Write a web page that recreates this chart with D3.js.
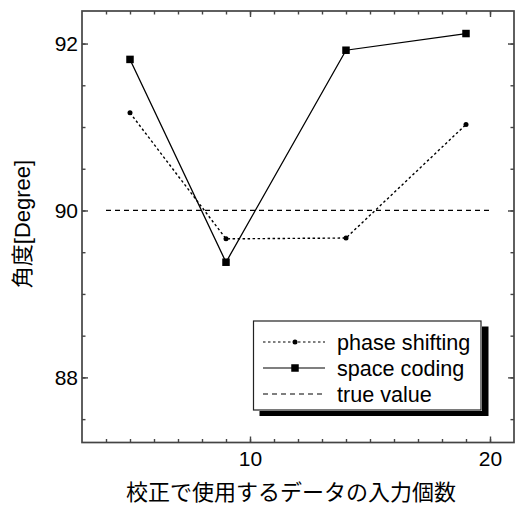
<!DOCTYPE html>
<html>
<head>
<meta charset="utf-8">
<script src="https://cdn.jsdelivr.net/npm/d3@7"></script>
<style>
  html, body { margin: 0; padding: 0; background: #fff; }
  svg { display: block; }
  text { font-family: "Liberation Sans", Arial, "Noto Sans CJK JP", sans-serif; fill: #000; }
</style>
</head>
<body>
<svg id="chart" width="516" height="506"></svg>
<script>
// Number of calibration inputs
const inputCounts = [5, 9, 14, 19];
// Measured angle [deg] for each method
const phaseShifting = [91.17, 89.66, 89.67, 91.03];
const spaceCoding = [91.81, 89.38, 91.92, 92.12];
// Reference (true) angle and the span it is drawn over
const trueValue = 90;
const trueSpan = [4, 20];

const xMajor = [10, 20];
const xMinor = d3.range(4, 21);
const yMajor = [88, 90, 92];
const yMinor = d3.range(87.5, 92.01, 0.5);

const seriesNames = ["phase shifting", "space coding", "true value"];
const xTitle = "校正で使用するデータの入力個数";
const yTitle = "角度[Degree]";

const svg = d3.select("#chart");
const plotL = 82, plotR = 514, plotT = 11, plotB = 442.5;

const x = d3.scaleLinear().domain([3, 21]).range([plotL, plotR]);
const y = d3.scaleLinear().domain([87.22, 92.39]).range([plotB, plotT]);

const axisColor = "#444";
const fontPx = 21;

// Ticks point inward on all four sides
function styleAxis(g) {
  g.select(".domain").remove();
  g.selectAll(".tick line").attr("stroke", axisColor).attr("stroke-width", 1.4);
  g.selectAll(".tick text").attr("font-size", fontPx).attr("font-family", null);
}
const noLabel = () => "";

svg.append("g").attr("transform", `translate(0,${plotB})`)
  .call(d3.axisBottom(x).tickValues(xMinor).tickSize(-3.5).tickFormat(noLabel)).call(styleAxis);
svg.append("g").attr("transform", `translate(0,${plotB})`)
  .call(d3.axisBottom(x).tickValues(xMajor).tickSize(-6).tickPadding(9).tickFormat(d3.format("d")))
  .call(styleAxis);
svg.append("g").attr("transform", `translate(0,${plotT})`)
  .call(d3.axisTop(x).tickValues(xMinor).tickSize(-3.5).tickFormat(noLabel)).call(styleAxis);
svg.append("g").attr("transform", `translate(0,${plotT})`)
  .call(d3.axisTop(x).tickValues(xMajor).tickSize(-6).tickFormat(noLabel)).call(styleAxis);

svg.append("g").attr("transform", `translate(${plotL},0)`)
  .call(d3.axisLeft(y).tickValues(yMinor).tickSize(-3.5).tickFormat(noLabel)).call(styleAxis);
const yLab = svg.append("g").attr("transform", `translate(${plotL},0)`)
  .call(d3.axisLeft(y).tickValues(yMajor).tickSize(-6).tickFormat(d3.format("d")))
  .call(styleAxis);
// Left tick labels sit just outside the frame
yLab.selectAll(".tick text").attr("x", -4);
svg.append("g").attr("transform", `translate(${plotR},0)`)
  .call(d3.axisRight(y).tickValues(yMinor).tickSize(-3.5).tickFormat(noLabel)).call(styleAxis);
svg.append("g").attr("transform", `translate(${plotR},0)`)
  .call(d3.axisRight(y).tickValues(yMajor).tickSize(-6).tickFormat(noLabel)).call(styleAxis);

// Plot frame
svg.append("rect")
  .attr("x", plotL).attr("y", plotT)
  .attr("width", plotR - plotL).attr("height", plotB - plotT)
  .attr("fill", "none").attr("stroke", axisColor).attr("stroke-width", 1.7);

// True value reference line
svg.append("line")
  .attr("x1", x(trueSpan[0])).attr("x2", x(trueSpan[1]))
  .attr("y1", y(trueValue)).attr("y2", y(trueValue))
  .attr("stroke", "#000").attr("stroke-width", 1.2).attr("stroke-dasharray", "5,4");

const line = d3.line().x((d, i) => x(inputCounts[i])).y(d => y(d));

// phase shifting: dotted line with small circles
svg.append("path").datum(phaseShifting)
  .attr("d", line).attr("fill", "none")
  .attr("stroke", "#000").attr("stroke-width", 1.4).attr("stroke-dasharray", "2.5,2.5");
svg.append("g").selectAll("circle").data(phaseShifting).join("circle")
  .attr("cx", (d, i) => x(inputCounts[i])).attr("cy", d => y(d)).attr("r", 2.5).attr("fill", "#000");

// space coding: solid line with squares
svg.append("path").datum(spaceCoding)
  .attr("d", line).attr("fill", "none")
  .attr("stroke", "#000").attr("stroke-width", 1.3);
const sq = 7.5;
svg.append("g").selectAll("rect").data(spaceCoding).join("rect")
  .attr("x", (d, i) => x(inputCounts[i]) - sq / 2).attr("y", d => y(d) - sq / 2)
  .attr("width", sq).attr("height", sq).attr("fill", "#000");

// Legend box with drop shadow
const lg = { x: 253.5, y: 321, w: 227.5, h: 89 };
svg.append("rect").attr("x", lg.x + 6).attr("y", lg.y + 5.5).attr("width", lg.w + 1.5).attr("height", lg.h + 0.5).attr("fill", "#000");
svg.append("rect").attr("x", lg.x - 1).attr("y", lg.y - 1).attr("width", lg.w + 2).attr("height", lg.h + 2).attr("fill", "#fff");
svg.append("rect").attr("x", lg.x).attr("y", lg.y).attr("width", lg.w).attr("height", lg.h)
  .attr("fill", "#fff").attr("stroke", "#222").attr("stroke-width", 1.2);

const rowBase = [349.5, 375.5, 401.5];
const sx0 = 263, sx1 = 325, smid = 295;
const legend = svg.append("g");
seriesNames.forEach((name, i) => {
  const ly = rowBase[i] - 7.5;
  const ln = legend.append("line").attr("x1", sx0).attr("x2", sx1).attr("y1", ly).attr("y2", ly)
    .attr("stroke", "#000").attr("stroke-width", 1.2);
  if (i === 0) {
    ln.attr("stroke-dasharray", "2.5,2.5");
    legend.append("circle").attr("cx", smid).attr("cy", ly).attr("r", 2.5).attr("fill", "#000");
  } else if (i === 1) {
    legend.append("rect").attr("x", smid - sq / 2).attr("y", ly - sq / 2).attr("width", sq).attr("height", sq).attr("fill", "#000");
  } else {
    ln.attr("stroke-dasharray", "5,4");
  }
  legend.append("text").attr("x", 337).attr("y", rowBase[i]).attr("font-size", 21.6).text(name);
});

// Axis titles
svg.append("text").attr("x", 291).attr("y", 500).attr("text-anchor", "middle")
  .attr("font-size", 22).text(xTitle);
svg.append("text").attr("transform", `translate(30,224) rotate(-90)`).attr("text-anchor", "middle")
  .attr("font-size", 22).text(yTitle);
</script>
</body>
</html>
